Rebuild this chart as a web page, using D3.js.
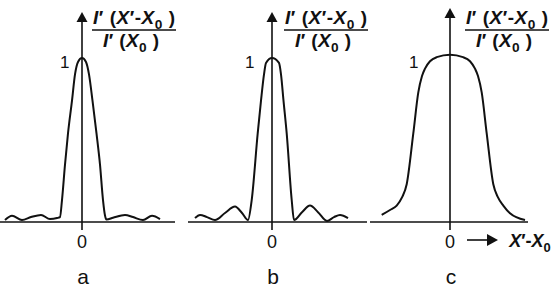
<!DOCTYPE html>
<html><head><meta charset="utf-8">
<script src="https://cdn.jsdelivr.net/npm/d3@7"></script>
<style>html,body{margin:0;padding:0;background:#fff;}</style>
</head><body>
<script>
// ---- data ----
const panelLabels = ["a", "b", "c"];
const xTickLabel = "0";
const yTickLabel = "1";

// panel a : narrow main lobe with small side lobes
const aX = [-7.7, -7.0, -6.0, -5.1, -4.1, -3.2, -2.5, -2.2, -2.0, -1.7, -1.4, -1.0, -0.7, -0.4, 0, 0.4, 0.7, 1.05, 1.45, 1.8, 2.1, 2.3, 2.45, 3.1, 4.3, 5.1, 6.1, 7.0, 7.8];
const aY = [0.012, 0.038, 0.012, 0.030, 0.043, 0.018, 0.024, 0.030, 0.134, 0.35, 0.54, 0.74, 0.90, 0.976, 1.0, 0.976, 0.90, 0.74, 0.54, 0.35, 0.134, 0.04, 0.015, 0.026, 0.043, 0.030, 0.012, 0.038, 0.018];

// panel b : main lobe with larger side lobes
const bX = [-7.7, -7.2, -6.5, -5.7, -4.7, -3.7, -3.0, -2.4, -2.03, -1.43, -1.1, -0.8, -0.6, 0, 0.7, 0.9, 1.15, 1.47, 1.97, 2.2, 3.0, 3.8, 4.6, 5.5, 6.2, 6.8, 7.6];
const bY = [0.024, 0.043, 0.030, 0.012, 0.055, 0.094, 0.055, 0.012, 0.134, 0.54, 0.74, 0.90, 0.97, 1.0, 0.97, 0.90, 0.74, 0.54, 0.134, 0.012, 0.060, 0.100, 0.060, 0.006, 0.030, 0.043, 0.024];

// panel c : smooth flat-topped bell
const cX = [-6.83, -6.0, -5.33, -4.8, -4.33, -3.67, -3.17, -2.8, -2.5, -2.0, -1.33, 0, 1.3, 2.0, 2.5, 2.8, 3.17, 3.67, 4.33, 4.8, 5.33, 6.0, 7.5];
const cY = [0.043, 0.073, 0.100, 0.150, 0.230, 0.54, 0.79, 0.89, 0.935, 0.98, 1.005, 1.02, 1.005, 0.98, 0.935, 0.89, 0.79, 0.54, 0.230, 0.150, 0.100, 0.053, 0.012];

const series = [[aX, aY], [bX, bY], [cX, cY]];

// ---- layout ----
const W = 560, H = 296;
const layout = [
  {ax: 82,  xMin: -8.2, xMax: 9.3, oneDx: -22, fracCx: 52, tip: 12},
  {ax: 272, xMin: -8.4, xMax: 9.5, oneDx: -27, fracCx: 54, tip: 12},
  {ax: 450, xMin: -8.0, xMax: 7.8, oneDx: -41, fracCx: 57, tip: 8}
];
const ink = "#111";
const font = "'Liberation Sans', Arial, sans-serif";

const svg = d3.select("body").append("svg").attr("width", W).attr("height", H)
  .style("display", "block");

const y = d3.scaleLinear().domain([0, 1]).range([222, 58]);

function addFormula(g, parts, cx, baseY, size) {
  const t = g.append("text").attr("x", cx).attr("y", baseY)
    .attr("text-anchor", "middle").attr("font-family", font)
    .attr("font-weight", "bold").attr("font-size", size).attr("fill", ink);
  parts.forEach(p => {
    const s = t.append("tspan").text(p.t);
    if (p.i) s.attr("font-style", "italic");
    if (p.sub) s.attr("font-size", size * 0.72).attr("dy", size * 0.28);
    if (p.up) s.attr("dy", -size * 0.28);
  });
  return t;
}

layout.forEach((L, i) => {
  const g = svg.append("g");
  const x = d3.scaleLinear().domain([L.xMin, L.xMax]).range([L.ax + L.xMin * 10, L.ax + L.xMax * 10]);
  const x0 = x(0);

  // x axis line
  g.append("line").attr("x1", x(L.xMin)).attr("x2", x(L.xMax))
    .attr("y1", y(0)).attr("y2", y(0)).attr("stroke", ink).attr("stroke-width", 1.6);
  // y axis line
  g.append("line").attr("x1", x0).attr("x2", x0)
    .attr("y1", L.tip + 8).attr("y2", y(0) + 8).attr("stroke", ink).attr("stroke-width", 1.6);
  // arrow head
  g.append("path").attr("d", `M${x0},${L.tip} L${x0 - 5.5},${L.tip + 10} L${x0 + 5.5},${L.tip + 10} Z`)
    .attr("fill", ink);

  // curve
  const [xs, ys] = series[i];
  const pts = xs.map((v, k) => [x(v), y(ys[k])]);
  g.append("path").attr("d", d3.line().curve(d3.curveMonotoneX)(pts))
    .attr("fill", "none").attr("stroke", ink).attr("stroke-width", 2)
    .attr("stroke-linejoin", "round");

  // tick labels
  g.append("text").attr("x", x0 + L.oneDx).attr("y", y(1) + 10)
    .attr("font-family", font).attr("font-size", 17).attr("fill", ink).text(yTickLabel);
  g.append("text").attr("x", x0).attr("y", 248).attr("text-anchor", "middle")
    .attr("font-family", font).attr("font-size", 18).attr("fill", ink).text(xTickLabel);

  // panel letter
  g.append("text").attr("x", x0 + 1).attr("y", 284).attr("text-anchor", "middle")
    .attr("font-family", font).attr("font-size", 21).attr("fill", ink).text(panelLabels[i]);

  // fraction label
  const fc = x0 + L.fracCx;
  addFormula(g, [{t: "I", i: 1}, {t: "′ ("}, {t: "X", i: 1}, {t: "′-"}, {t: "X", i: 1}, {t: "0", sub: 1}, {t: " )", up: 1}], fc, 24, 19)
    .attr("textLength", 82).attr("lengthAdjust", "spacing");
  g.append("line").attr("x1", fc - 42).attr("x2", fc + 42).attr("y1", 30).attr("y2", 30)
    .attr("stroke", ink).attr("stroke-width", 1.5);
  addFormula(g, [{t: "I", i: 1}, {t: "′ ("}, {t: "X", i: 1}, {t: "0", sub: 1}, {t: " )", up: 1}], fc - 3, 47, 19)
    .attr("textLength", 56).attr("lengthAdjust", "spacing");

  // x-axis name with arrow (last panel only)
  if (i === layout.length - 1) {
    g.append("line").attr("x1", x0 + 17).attr("x2", x0 + 40).attr("y1", 240).attr("y2", 240)
      .attr("stroke", ink).attr("stroke-width", 1.6);
    g.append("path").attr("d", `M${x0 + 48},240 L${x0 + 37},234 L${x0 + 37},246 Z`).attr("fill", ink);
    addFormula(g, [{t: "X", i: 1}, {t: "′-"}, {t: "X", i: 1}, {t: "0", sub: 1}], x0 + 80, 247, 18);
  }
});
</script>
</body></html>
